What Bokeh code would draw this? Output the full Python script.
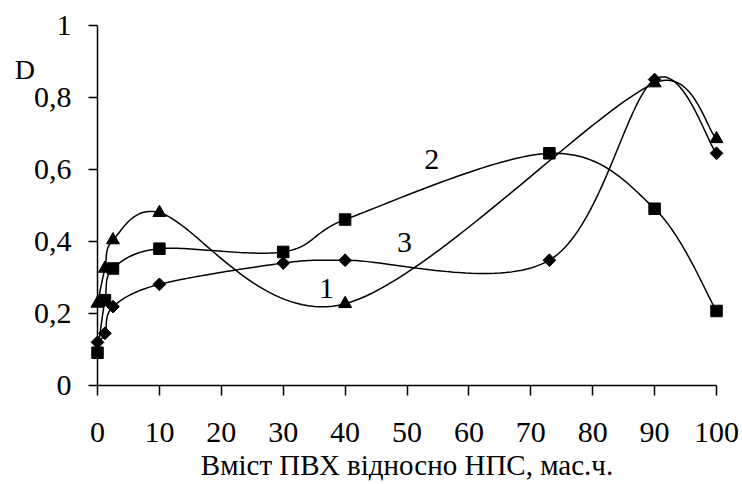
import numpy as np
from bokeh.plotting import figure
from bokeh.models import Range1d, FixedTicker, ColumnDataSource
from bokeh.core.properties import value
from bokeh.embed import file_html
from bokeh.resources import INLINE

# PVC content relative to NPS (mass parts)
x_common = [0, 1.2, 2.5, 10, 30, 40, 73, 90, 100]
x_curve1 = [0, 1.2, 2.5, 10, 40, 90, 100]

# optical density D for the three compositions
d_curve1 = [0.228, 0.325, 0.404, 0.48, 0.227, 0.84, 0.685]
d_curve2 = [0.091, 0.237, 0.325, 0.38, 0.371, 0.461, 0.645, 0.491, 0.207]
d_curve3 = [0.12, 0.145, 0.219, 0.281, 0.34, 0.348, 0.348, 0.85, 0.645]

x_ticks = [0, 10, 20, 30, 40, 50, 60, 70, 80, 90, 100]
x_tick_labels = ["0", "10", "20", "30", "40", "50", "60", "70", "80", "90", "100"]
y_ticks = [0, 0.2, 0.4, 0.6, 0.8, 1.0]
y_tick_labels = ["0", "0,2", "0,4", "0,6", "0,8", "1"]

curve_names = ["1", "2", "3"]
curve_name_x = [37.0, 54.0, 49.6]
curve_name_y = [0.27, 0.628, 0.397]

x_title = "Вміст ПВХ відносно НПС, мас.ч."
y_title = "D"

FONT = "Liberation Serif"
FRAME_W, FRAME_H = 619, 360


def smooth(xs, ys, n=40, tension=1.0 / 6.0, cap=0.5):
    """Catmull-Rom style cubic Bezier path through the points.  A handle is
    shortened when it would be longer (on screen) than cap * its segment."""
    P = np.column_stack([xs, ys]).astype(float)
    scale = np.array([FRAME_W / 100.0, FRAME_H / 1.0])
    m = len(P)

    def slen(v):
        return float(np.hypot(*(v * scale)))

    def limit(h, seg_len):
        L = slen(h)
        return h * (cap * seg_len / L) if L > cap * seg_len else h

    parts = []
    t = np.linspace(0.0, 1.0, n)[:, None]
    for i in range(m - 1):
        p1, p2 = P[i], P[i + 1]
        d12 = slen(p2 - p1)
        h1 = tension * (p2 - (P[i - 1] if i > 0 else p1))
        h2 = tension * ((P[i + 2] if i + 2 < m else p2) - p1)
        c1 = p1 + limit(h1, d12)
        c2 = p2 - limit(h2, d12)
        seg = ((1 - t) ** 3) * p1 + 3 * ((1 - t) ** 2) * t * c1 + 3 * (1 - t) * (t ** 2) * c2 + (t ** 3) * p2
        parts.append(seg if i == 0 else seg[1:])
    path = np.vstack(parts)
    return path[:, 0], path[:, 1]


p = figure(width=742, height=484, output_backend="svg", toolbar_location=None,
           x_range=Range1d(0, 100), y_range=Range1d(0, 1),
           min_border_left=97, min_border_right=26, min_border_top=25, min_border_bottom=99)
p.outline_line_color = None
p.grid.visible = False
p.background_fill_color = "white"
p.border_fill_color = "white"

for ax in (p.xaxis[0], p.yaxis[0]):
    ax.axis_line_color = "black"
    ax.axis_line_width = 1.5
    ax.major_tick_line_color = "black"
    ax.major_tick_line_width = 1.5
    ax.major_tick_in = 0
    ax.minor_tick_line_color = None
    ax.major_label_text_font = FONT
    ax.major_label_text_font_size = "30px"
    ax.major_label_text_color = "black"

p.xaxis.ticker = FixedTicker(ticks=x_ticks)
p.xaxis.major_label_overrides = dict(zip(x_ticks, x_tick_labels))
p.xaxis.major_tick_out = 10
p.xaxis.major_label_standoff = 27
p.xaxis.axis_label = x_title
p.xaxis.axis_label_text_font = FONT
p.xaxis.axis_label_text_font_size = "29px"
p.xaxis.axis_label_text_font_style = "normal"
p.xaxis.axis_label_text_color = "black"
p.xaxis.axis_label_standoff = 4

p.yaxis.ticker = FixedTicker(ticks=y_ticks)
p.yaxis.major_label_overrides = dict(zip(y_ticks, y_tick_labels))
p.yaxis.major_tick_out = 9
p.yaxis.major_label_standoff = 17

series = [
    (x_curve1, d_curve1, dict(marker="triangle", size=13)),
    (x_common, d_curve2, dict(marker="square", size=11.5)),
    (x_common, d_curve3, dict(marker="square", size=9, angle=np.pi / 4)),
]
for xs, ys, mk in series:
    sx, sy = smooth(xs, ys)
    p.line(sx, sy, line_color="black", line_width=1.5)
for xs, ys, mk in series:
    p.scatter(xs, ys, fill_color="black", line_color="black", level="overlay", **mk)

names = ColumnDataSource(dict(x=curve_name_x, y=curve_name_y, t=curve_names))
p.text(x="x", y="y", text="t", source=names, text_font=value(FONT), text_font_size="30px",
       text_align="center", text_baseline="middle", text_color="black")

# y-axis title sits left of the axis, near the top; anchored inside the frame and shifted out
p.text(x=[1], y=[0.878], text=[y_title], text_font=value(FONT), text_font_size="28px",
       text_align="left", text_baseline="alphabetic", text_color="black",
       x_offset=-89, level="overlay")

open("out.html", "w").write(file_html(p, INLINE))
